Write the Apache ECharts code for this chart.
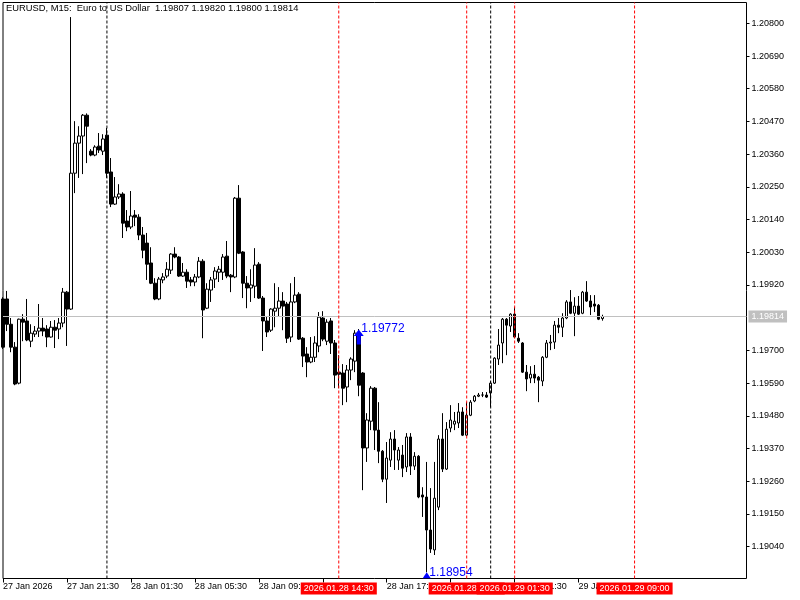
<!DOCTYPE html>
<html>
<head>
<meta charset="utf-8">
<title>EURUSD M15</title>
<script src="https://cdn.jsdelivr.net/npm/echarts@6/dist/echarts.min.js"></script>
<style>
	html, body { margin: 0; padding: 0; background: #ffffff; }
	#chart { width: 800px; height: 600px; }
</style>
</head>
<body>
<div id="chart"></div>
<script>
	// M15 bars from 27 Jan 17:30, each row is [open, close, low, high]
	var candles = [
		[1.19873, 1.19711, 1.19705, 1.19879], [1.19873, 1.19788, 1.19765, 1.19900], [1.19788, 1.19711, 1.19694, 1.19809],
		[1.19711, 1.19587, 1.19583, 1.19728], [1.19590, 1.19805, 1.19586, 1.19807], [1.19805, 1.19795, 1.19731, 1.19822],
		[1.19799, 1.19735, 1.19731, 1.19873], [1.19731, 1.19758, 1.19711, 1.19788], [1.19755, 1.19765, 1.19745, 1.19782],
		[1.19765, 1.19775, 1.19745, 1.19856], [1.19775, 1.19765, 1.19748, 1.19809], [1.19772, 1.19745, 1.19711, 1.19785],
		[1.19745, 1.19778, 1.19743, 1.19799], [1.19778, 1.19768, 1.19708, 1.19802], [1.19772, 1.19792, 1.19738, 1.19809],
		[1.19792, 1.19896, 1.19778, 1.19910], [1.19896, 1.19839, 1.19715, 1.19900], [1.19839, 1.20296, 1.19836, 1.20821],
		[1.20296, 1.20397, 1.20229, 1.20471], [1.20397, 1.20421, 1.20280, 1.20454], [1.20421, 1.20491, 1.20293, 1.20495],
		[1.20491, 1.20454, 1.20330, 1.20497], [1.20370, 1.20357, 1.20353, 1.20377], [1.20357, 1.20384, 1.20353, 1.20390],
		[1.20387, 1.20374, 1.20364, 1.20431], [1.20370, 1.20411, 1.20357, 1.20427], [1.20424, 1.20296, 1.20280, 1.20448],
		[1.20300, 1.20192, 1.20182, 1.20347], [1.20192, 1.20216, 1.20189, 1.20283], [1.20216, 1.20226, 1.20209, 1.20259],
		[1.20226, 1.20128, 1.20078, 1.20232], [1.20135, 1.20115, 1.20101, 1.20172], [1.20115, 1.20152, 1.20108, 1.20236],
		[1.20155, 1.20148, 1.20118, 1.20172], [1.20148, 1.20088, 1.20071, 1.20158], [1.20088, 1.20037, 1.20010, 1.20115],
		[1.20061, 1.19990, 1.19937, 1.20095], [1.19994, 1.19926, 1.19923, 1.20047], [1.19926, 1.19873, 1.19869, 1.19943],
		[1.19873, 1.19940, 1.19869, 1.19947], [1.19937, 1.19947, 1.19926, 1.19960], [1.19950, 1.19973, 1.19943, 1.19997],
		[1.19970, 1.20024, 1.19957, 1.20027], [1.20024, 1.20014, 1.20010, 1.20047], [1.20014, 1.19950, 1.19947, 1.20017],
		[1.19950, 1.19963, 1.19947, 1.19994], [1.19963, 1.19933, 1.19910, 1.19973], [1.19937, 1.19930, 1.19916, 1.19947],
		[1.19930, 1.19947, 1.19916, 1.19957], [1.19947, 1.20000, 1.19943, 1.20014], [1.20000, 1.19836, 1.19741, 1.20007],
		[1.19842, 1.19906, 1.19839, 1.19926], [1.19903, 1.19937, 1.19863, 1.19947], [1.19940, 1.19967, 1.19910, 1.19980],
		[1.19963, 1.19973, 1.19930, 1.19984], [1.19963, 1.20014, 1.19937, 1.20024], [1.20017, 1.19950, 1.19943, 1.20068],
		[1.19953, 1.19947, 1.19896, 1.19957], [1.19947, 1.20212, 1.19943, 1.20216], [1.20212, 1.20027, 1.20024, 1.20256],
		[1.20031, 1.19926, 1.19876, 1.20034], [1.19926, 1.19910, 1.19842, 1.19950], [1.19910, 1.19920, 1.19863, 1.19973],
		[1.19916, 1.19987, 1.19876, 1.20044], [1.19990, 1.19876, 1.19873, 1.19997], [1.19876, 1.19799, 1.19698, 1.19883],
		[1.19799, 1.19762, 1.19745, 1.19815], [1.19768, 1.19839, 1.19762, 1.19842], [1.19832, 1.19842, 1.19778, 1.19926],
		[1.19842, 1.19866, 1.19815, 1.19913], [1.19866, 1.19849, 1.19768, 1.19896], [1.19856, 1.19741, 1.19725, 1.19863],
		[1.19745, 1.19863, 1.19728, 1.19926], [1.19863, 1.19886, 1.19859, 1.19947], [1.19889, 1.19738, 1.19735, 1.19896],
		[1.19741, 1.19681, 1.19644, 1.19745], [1.19688, 1.19661, 1.19610, 1.19711], [1.19661, 1.19677, 1.19657, 1.19745],
		[1.19677, 1.19725, 1.19661, 1.19748], [1.19715, 1.19812, 1.19694, 1.19829], [1.19809, 1.19738, 1.19731, 1.19832],
		[1.19731, 1.19795, 1.19718, 1.19805], [1.19799, 1.19725, 1.19688, 1.19809], [1.19725, 1.19617, 1.19573, 1.19735],
		[1.19627, 1.19620, 1.19573, 1.19684], [1.19624, 1.19573, 1.19516, 1.19654], [1.19577, 1.19634, 1.19526, 1.19651],
		[1.19634, 1.19671, 1.19600, 1.19677], [1.19664, 1.19758, 1.19627, 1.19768], [1.19755, 1.19583, 1.19546, 1.19772],
		[1.19624, 1.19372, 1.19230, 1.19627], [1.19372, 1.19466, 1.19325, 1.19489], [1.19462, 1.19573, 1.19432, 1.19580],
		[1.19573, 1.19432, 1.19365, 1.19577], [1.19432, 1.19361, 1.19321, 1.19526], [1.19361, 1.19267, 1.19257, 1.19365],
		[1.19267, 1.19338, 1.19187, 1.19392], [1.19331, 1.19402, 1.19308, 1.19425], [1.19402, 1.19365, 1.19298, 1.19432],
		[1.19331, 1.19365, 1.19298, 1.19375], [1.19348, 1.19304, 1.19274, 1.19382], [1.19308, 1.19409, 1.19291, 1.19422],
		[1.19409, 1.19311, 1.19281, 1.19422], [1.19311, 1.19344, 1.19298, 1.19358], [1.19344, 1.19207, 1.19203, 1.19348],
		[1.19214, 1.19207, 1.19140, 1.19240], [1.19207, 1.19096, 1.18954, 1.19325], [1.19096, 1.19032, 1.19019, 1.19237],
		[1.19029, 1.19203, 1.19012, 1.19325], [1.19173, 1.19402, 1.19163, 1.19415], [1.19402, 1.19301, 1.19291, 1.19489],
		[1.19301, 1.19435, 1.19298, 1.19459], [1.19439, 1.19466, 1.19425, 1.19516], [1.19452, 1.19462, 1.19432, 1.19493],
		[1.19456, 1.19493, 1.19439, 1.19523], [1.19493, 1.19415, 1.19412, 1.19509], [1.19415, 1.19482, 1.19412, 1.19526],
		[1.19482, 1.19526, 1.19479, 1.19533], [1.19530, 1.19546, 1.19526, 1.19550], [1.19546, 1.19550, 1.19543, 1.19557],
		[1.19550, 1.19550, 1.19543, 1.19560], [1.19550, 1.19543, 1.19540, 1.19560], [1.19557, 1.19590, 1.19509, 1.19597],
		[1.19590, 1.19674, 1.19587, 1.19677], [1.19671, 1.19718, 1.19651, 1.19772], [1.19725, 1.19805, 1.19657, 1.19809],
		[1.19805, 1.19785, 1.19684, 1.19809], [1.19782, 1.19822, 1.19762, 1.19825], [1.19822, 1.19745, 1.19741, 1.19846],
		[1.19741, 1.19731, 1.19725, 1.19758], [1.19725, 1.19627, 1.19624, 1.19728], [1.19627, 1.19604, 1.19563, 1.19651],
		[1.19607, 1.19620, 1.19590, 1.19647], [1.19620, 1.19607, 1.19590, 1.19651], [1.19610, 1.19600, 1.19526, 1.19614],
		[1.19597, 1.19677, 1.19580, 1.19681], [1.19677, 1.19725, 1.19674, 1.19735], [1.19725, 1.19728, 1.19701, 1.19752],
		[1.19728, 1.19785, 1.19705, 1.19799], [1.19785, 1.19778, 1.19758, 1.19809], [1.19778, 1.19809, 1.19745, 1.19825],
		[1.19809, 1.19863, 1.19805, 1.19869], [1.19863, 1.19825, 1.19822, 1.19903], [1.19825, 1.19849, 1.19748, 1.19879],
		[1.19849, 1.19822, 1.19819, 1.19883], [1.19825, 1.19896, 1.19822, 1.19900], [1.19896, 1.19866, 1.19863, 1.19933],
		[1.19866, 1.19846, 1.19819, 1.19886], [1.19856, 1.19849, 1.19829, 1.19886], [1.19852, 1.19805, 1.19802, 1.19856],
		[1.19807, 1.19814, 1.19800, 1.19820]
	];

	// bar slots incl. the empty shift on the right side
	var slotCount = 187;
	var labelStep = 16;
	var timeLabels = ['27 Jan 2026', '27 Jan 21:30', '28 Jan 01:30', '28 Jan 05:30', '28 Jan 09:30',
		'28 Jan 13:30', '28 Jan 17:30', '28 Jan 21:30', '29 Jan 01:30', '29 Jan 05:30'];
	var priceTicks = [1.19040, 1.19150, 1.19260, 1.19370, 1.19480, 1.19590, 1.19700,
		1.19920, 1.20030, 1.20140, 1.20250, 1.20360, 1.20470, 1.20580, 1.20690, 1.20800];
	var priceMin = 1.18933;
	var priceMax = 1.20870;
	var bidPrice = 1.19814;
	var titleText = 'EURUSD, M15:  Euro to US Dollar  1.19807 1.19820 1.19800 1.19814';
	// day separators (bar index)
	var daySeparators = [26, 122];
	// vertical line objects: bar index + time label
	var vLineBars = [84, 116, 128, 158];
	var vLineTexts = ['2026.01.28 14:30', '2026.01.28 22:30', '2026.01.29 01:30', '2026.01.29 09:00'];
	// price arrows: bar index + price
	var arrowBars = [89, 106];
	var arrowPrices = [1.19772, 1.18954];

	var fontFamily = 'Liberation Sans, Arial, sans-serif';
	var slots = [];
	for (var i = 0; i < slotCount; i++) {
		slots.push(String(i));
	}

	function isLabelSlot(index) {
		return index % labelStep === 0 && index / labelStep < timeLabels.length;
	}

	var markPoints = [];
	arrowBars.forEach(function (v, i) {
		var up = i === 0;
		markPoints.push({
			coord: [v, arrowPrices[i]],
			symbol: up ? 'path://M5,0 L10,6 L7,6 L7,14 L3,14 L3,6 L0,6 Z' : 'triangle',
			symbolSize: up ? [10, 15] : [8, 6],
			symbolOffset: up ? [0, 8] : [0, 3],
			itemStyle: { color: '#0000ff' },
			label: { show: false }
		});
		markPoints.push({
			coord: [v, arrowPrices[i]],
			symbol: 'circle',
			symbolSize: 1,
			itemStyle: { color: 'rgba(0,0,0,0)' },
			label: {
				show: true, position: 'right', distance: 2,
				formatter: arrowPrices[i].toFixed(5),
				color: '#0000ff', fontSize: 12, fontFamily: fontFamily
			}
		});
	});

	// one vertical dashed line drawn as a two-point line series
	function vLine(bar, color) {
		return {
			type: 'line',
			data: [[bar, priceMin], [bar, priceMax]],
			symbol: 'none',
			silent: true,
			z: 5,
			lineStyle: { color: color, type: [3, 2], width: 1 }
		};
	}

	var series = [{
		name: 'bid',
		type: 'line',
		data: [],
		silent: true,
		markLine: {
			symbol: ['none', 'none'],
			silent: true,
			animation: false,
			precision: 5,
			lineStyle: { color: '#c0c0c0', type: 'solid', width: 1 },
			label: {
				show: true, position: 'end', distance: 2,
				formatter: bidPrice.toFixed(5),
				color: '#ffffff', backgroundColor: '#c0c0c0',
				padding: [2, 3, 1, 3], fontSize: 9, fontFamily: fontFamily
			},
			data: [{ yAxis: bidPrice }]
		}
	}, {
		type: 'candlestick',
		data: candles,
		barWidth: 3,
		itemStyle: {
			color: '#ffffff',
			color0: '#000000',
			borderColor: '#000000',
			borderColor0: '#000000',
			borderWidth: 1
		},
		markPoint: {
			silent: true,
			animation: false,
			data: markPoints
		}
	}];
	daySeparators.forEach(function (v) {
		series.push(vLine(v, '#000000'));
	});
	vLineBars.forEach(function (v) {
		series.push(vLine(v, '#ff0000'));
	});
	// time labels of the vertical lines, shown on the time scale
	series.push({
		name: 'vlineLabels',
		type: 'line',
		data: [],
		silent: true,
		z: 6,
		markLine: {
			symbol: ['none', 'none'],
			silent: true,
			animation: false,
			lineStyle: { color: 'rgba(0,0,0,0)', width: 1 },
			label: {
				show: true, position: 'start', distance: 4,
				color: '#ffffff', backgroundColor: '#ff0000',
				padding: [2, 3, 1, 3], fontSize: 9, fontFamily: fontFamily
			},
			data: vLineBars.map(function (v, i) {
				return { xAxis: v, label: { formatter: vLineTexts[i] } };
			})
		}
	});

	var options = {
		animation: false,
		backgroundColor: '#ffffff',
		title: {
			text: titleText,
			left: 6,
			top: 4,
			padding: 0,
			textStyle: { fontSize: 9.4, fontWeight: 'normal', color: '#000000', fontFamily: fontFamily }
		},
		grid: {
			left: 2.5,
			right: 53.5,
			top: 2.5,
			bottom: 21.5,
			show: true,
			borderColor: '#000000',
			borderWidth: 1,
			backgroundColor: '#ffffff'
		},
		xAxis: {
			type: 'category',
			data: slots,
			boundaryGap: false,
			axisLine: { show: false },
			axisTick: {
				show: true, length: 4, interval: isLabelSlot,
				lineStyle: { color: '#000000' }
			},
			axisLabel: {
				interval: isLabelSlot,
				formatter: function (value, index) {
					return timeLabels[index / labelStep];
				},
				align: 'left',
				margin: 4,
				color: '#000000',
				fontSize: 9,
				fontFamily: fontFamily
			},
			splitLine: { show: false }
		},
		yAxis: {
			type: 'value',
			position: 'right',
			min: priceMin,
			max: priceMax,
			axisLine: { show: false },
			splitLine: { show: false },
			axisTick: {
				show: true, length: 3, customValues: priceTicks,
				lineStyle: { color: '#000000' }
			},
			axisLabel: {
				customValues: priceTicks,
				formatter: function (v) { return v.toFixed(5); },
				margin: 5,
				color: '#000000',
				fontSize: 9,
				fontFamily: fontFamily
			}
		},
		series: series
	};

	var chart = echarts.init(document.getElementById('chart'), null, { renderer: 'canvas' });
	chart.setOption(options);
</script>
</body>
</html>
